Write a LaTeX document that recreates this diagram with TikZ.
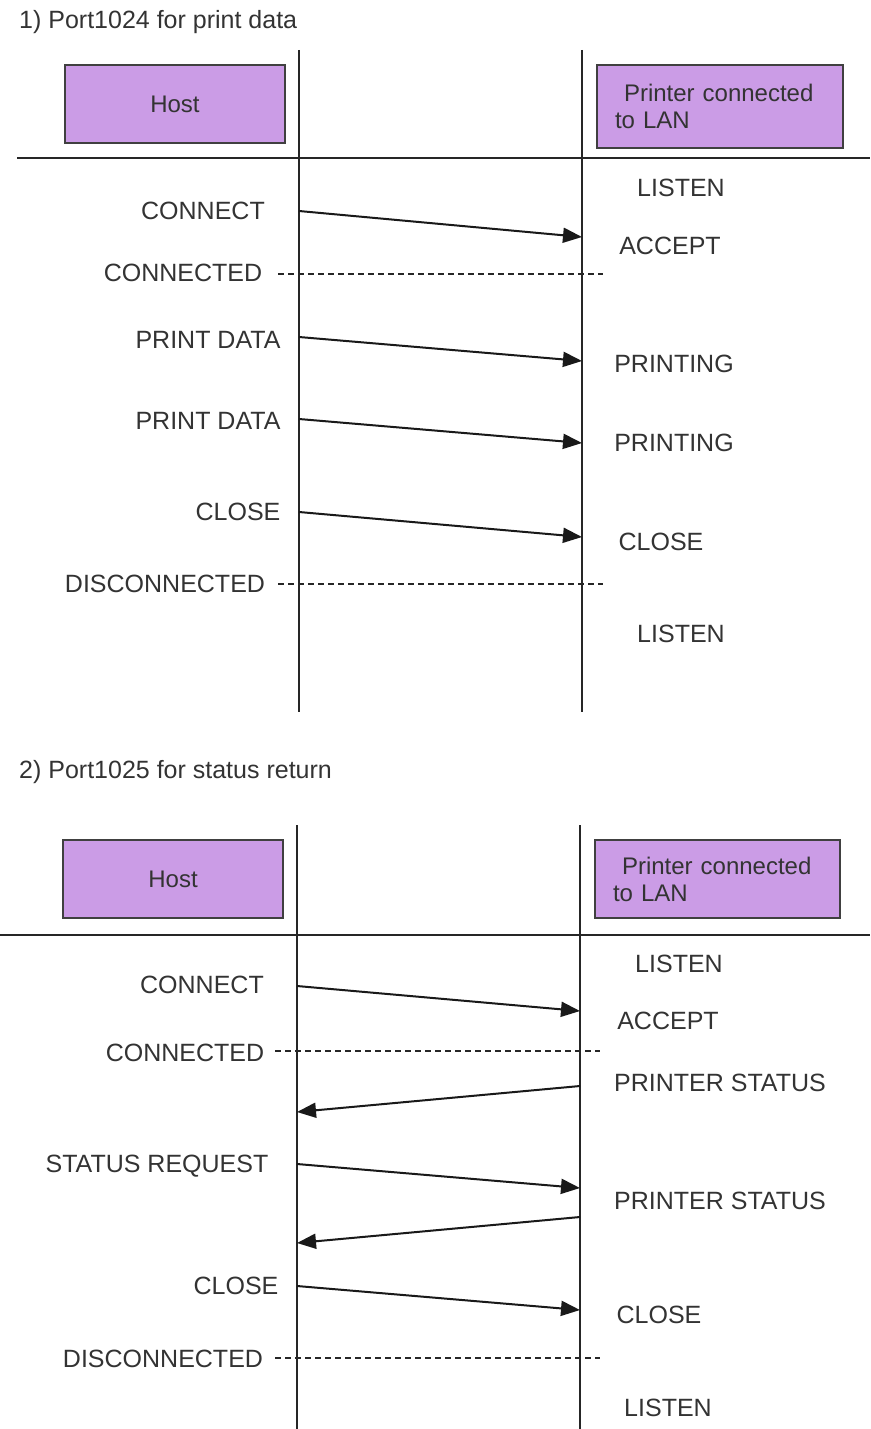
\documentclass[tikz,border=0pt]{standalone}
\usepackage{fontspec}
\setmainfont{Liberation Sans}
\usetikzlibrary{arrows.meta}
\definecolor{boxfill}{RGB}{203,156,230}
\begin{document}
\begin{tikzpicture}[
    x=1pt, y=-1pt,
    lbl/.style={font=\fontsize{25}{28}\selectfont, text=black!80, inner sep=0pt},
    head/.style={font=\fontsize{25}{28}\selectfont, text=black!80, anchor=west, inner sep=0pt},
    actor/.style={draw=black!75, line width=2.5pt, fill=boxfill, text=black!80,
      font=\fontsize{24}{27}\selectfont, inner sep=0pt},
    life/.style={line width=1.8pt, draw=black!85},
    sep/.style={line width=2.4pt, draw=black!85},
    msg/.style={-{Triangle[length=19pt,width=15pt]}, line width=2pt, draw=black!90},
    conn/.style={dash pattern=on 6pt off 4pt, line width=1.4pt, draw=black!85}
  ]
    \useasboundingbox (0,0) rectangle (870,1429);

    % 1) port 1024
    \node[head] (t1) at (19,22) {1) Port1024 for print data};
    \coordinate (h1top) at (299,50);
    \coordinate (h1bot) at (299,712);
    \coordinate (p1top) at (582,50);
    \coordinate (p1bot) at (582,712);
    \draw[life] (h1top) -- (h1bot);
    \draw[life] (p1top) -- (p1bot);
    \node[actor, minimum width=220pt, minimum height=78pt] (host1) at (175,104) {Host};
    \node[actor, minimum width=246pt, minimum height=83pt, text width=210pt,
      align=left] (prn1) at (720,106.5) {\hspace*{9pt}Printer connected\\to LAN};
    \coordinate (s1l) at (17,158);
    \coordinate (s1r) at (870,158);
    \draw[sep] (s1l) -- (s1r);

    \node[lbl] (listen1a) at (681,188) {LISTEN};
    \node[lbl] (connect1) at (203,211) {CONNECT};
    \coordinate (m1a) at (299,211);
    \coordinate (m1b) at (582,237);
    \draw[msg] (m1a) -- (m1b);
    \node[lbl] (accept1) at (670,246) {ACCEPT};
    \node[lbl] (connected1) at (183,273) {CONNECTED};
    \coordinate (d1a) at (278,274);
    \coordinate (d1b) at (603,274);
    \draw[conn] (d1a) -- (d1b);
    \node[lbl] (data1a) at (208,340) {PRINT DATA};
    \coordinate (m2a) at (299,337);
    \coordinate (m2b) at (582,361);
    \draw[msg] (m2a) -- (m2b);
    \node[lbl] (printing1a) at (674,364) {PRINTING};
    \node[lbl] (data1b) at (208,421) {PRINT DATA};
    \coordinate (m3a) at (299,419);
    \coordinate (m3b) at (582,443);
    \draw[msg] (m3a) -- (m3b);
    \node[lbl] (printing1b) at (674,443) {PRINTING};
    \node[lbl] (close1a) at (238,512) {CLOSE};
    \coordinate (m4a) at (299,512);
    \coordinate (m4b) at (582,537);
    \draw[msg] (m4a) -- (m4b);
    \node[lbl] (close1b) at (661,542) {CLOSE};
    \node[lbl] (disc1) at (165,584) {DISCONNECTED};
    \coordinate (d2a) at (278,584);
    \coordinate (d2b) at (603,584);
    \draw[conn] (d2a) -- (d2b);
    \node[lbl] (listen1b) at (681,634) {LISTEN};

    % 2) port 1025
    \node[head] (t2) at (19,772) {2) Port1025 for status return};
    \coordinate (h2top) at (297,825);
    \coordinate (h2bot) at (297,1429);
    \coordinate (p2top) at (580,825);
    \coordinate (p2bot) at (580,1429);
    \draw[life] (h2top) -- (h2bot);
    \draw[life] (p2top) -- (p2bot);
    \node[actor, minimum width=220pt, minimum height=78pt] (host2) at (173,879) {Host};
    \node[actor, minimum width=245pt, minimum height=78pt, text width=209pt,
      align=left] (prn2) at (717.5,879) {\hspace*{9pt}Printer connected\\to LAN};
    \coordinate (s2l) at (0,935);
    \coordinate (s2r) at (870,935);
    \draw[sep] (s2l) -- (s2r);

    \node[lbl] (listen2a) at (679,964) {LISTEN};
    \node[lbl] (connect2) at (202,985) {CONNECT};
    \coordinate (n1a) at (297,986);
    \coordinate (n1b) at (580,1011);
    \draw[msg] (n1a) -- (n1b);
    \node[lbl] (accept2) at (668,1021) {ACCEPT};
    \node[lbl] (connected2) at (185,1053) {CONNECTED};
    \coordinate (e1a) at (275,1051);
    \coordinate (e1b) at (600,1051);
    \draw[conn] (e1a) -- (e1b);
    \node[lbl] (status2a) at (720,1083) {PRINTER STATUS};
    \coordinate (n2a) at (580,1086);
    \coordinate (n2b) at (297,1112);
    \draw[msg] (n2a) -- (n2b);
    \node[lbl] (request2) at (157,1166) {STATUS REQUEST};
    \coordinate (n3a) at (297,1164);
    \coordinate (n3b) at (580,1188);
    \draw[msg] (n3a) -- (n3b);
    \node[lbl] (status2b) at (720,1201) {PRINTER STATUS};
    \coordinate (n4a) at (580,1217);
    \coordinate (n4b) at (297,1243);
    \draw[msg] (n4a) -- (n4b);
    \node[lbl] (close2a) at (236,1286) {CLOSE};
    \coordinate (n5a) at (297,1286);
    \coordinate (n5b) at (580,1310);
    \draw[msg] (n5a) -- (n5b);
    \node[lbl] (close2b) at (659,1315) {CLOSE};
    \node[lbl] (disc2) at (163,1359) {DISCONNECTED};
    \coordinate (e2a) at (275,1358);
    \coordinate (e2b) at (600,1358);
    \draw[conn] (e2a) -- (e2b);
    \node[lbl] (listen2b) at (668,1408) {LISTEN};
\end{tikzpicture}
\end{document}
